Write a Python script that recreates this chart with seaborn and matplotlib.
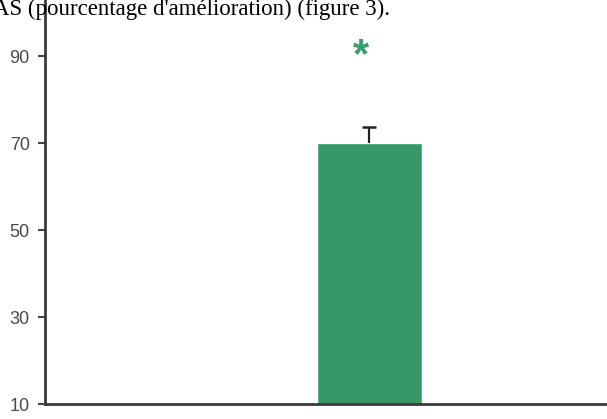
import matplotlib
matplotlib.use("Agg")
import matplotlib.pyplot as plt
import seaborn as sns
import pandas as pd

# data
groups = ["traitement"]
improvement = [70.0]
err_up = [3.7]
star_x = -0.06
star_level = 89.9
yticks = [10, 30, 50, 70, 90]

df = pd.DataFrame({"groupe": groups, "amelioration": improvement})

sns.set_style("white")
plt.rcParams["font.family"] = ["Liberation Sans", "DejaVu Sans"]

fig = plt.figure(figsize=(6.07, 4.19), dpi=100)
ax = fig.add_axes([45 / 607, 15 / 419, 562 / 607, 404 / 419])

green = "#359866"
sns.barplot(data=df, x="groupe", y="amelioration", color=green, width=0.8,
            saturation=1, errorbar=None, ax=ax)
eb = ax.errorbar([0], improvement, yerr=[[0], err_up], fmt="none", ecolor="#222222",
                 elinewidth=1.6, capsize=5, capthick=1.8)
eb[1][0].set_visible(False)  # only the upper cap is drawn
ax.text(star_x, star_level, "*", color="#3a9c70", fontsize=30, ha="center",
        va="center", fontweight="bold")

ax.set_xlim(-2.47, 1.81)
ax.set_ylim(10, 102.9)
ax.set_yticks(yticks)
ax.set_yticklabels([str(t) for t in yticks], fontsize=13, color="#4a4a4a")
ax.set_xticks([])
ax.set_xlabel("")
ax.set_ylabel("")
ax.tick_params(axis="y", direction="out", length=5, width=1.5, color="#444444",
               left=True, pad=6)
for side in ["top", "right"]:
    ax.spines[side].set_visible(False)
for side in ["left", "bottom"]:
    ax.spines[side].set_color("#3a3a3a")
    ax.spines[side].set_linewidth(2)

# leftover document text above the chart
fig.text(-0.012, 1 - 15 / 419, "AS (pourcentage d'amélioration) (figure 3).",
         family=["Liberation Serif", "DejaVu Serif"], fontsize=16.5, va="baseline",
         color="black")

fig.savefig("out.png", dpi=100)
